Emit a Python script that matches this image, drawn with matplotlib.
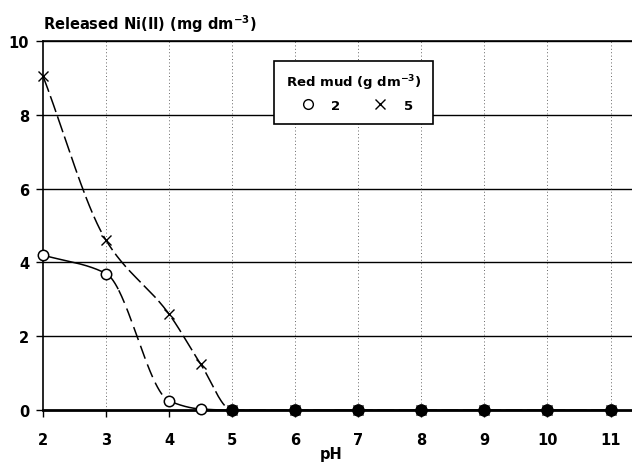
# released_ni.py
#
# Released Ni(II) against pH for two red mud doses

import numpy as np
import matplotlib
matplotlib.use('Agg')
import matplotlib.pyplot as plt
from matplotlib.lines import Line2D

plt.rcParams['font.family'] = ['DejaVu Sans']
plt.rcParams['font.weight'] = 'bold'

# Data
ph = [2, 3, 4, 4.5, 5, 6, 7, 8, 9, 10, 11]
ni_2 = [4.2, 3.7, 0.25, 0.03, 0, 0, 0, 0, 0, 0, 0]
ni_5 = [9.05, 4.6, 2.6, 1.25, 0, 0, 0, 0, 0, 0, 0]
dose_labels = ['2', '5']

X_TICKS = list(range(2, 12))
Y_TICKS = [0, 2, 4, 6, 8, 10]
FS = 10.5


def pchip(x, y, xs):
    """
    Monotone cubic through the points, used only to draw the smooth line
    """
    x = np.asarray(x, float)
    y = np.asarray(y, float)
    h = np.diff(x)
    d = np.diff(y) / h
    m = np.zeros_like(y)
    for k in range(1, len(x) - 1):
        if d[k - 1] * d[k] > 0:
            w1 = 2 * h[k] + h[k - 1]
            w2 = h[k] + 2 * h[k - 1]
            m[k] = (w1 + w2) / (w1 / d[k - 1] + w2 / d[k])
    m[0] = d[0]
    m[-1] = d[-1]
    idx = np.clip(np.searchsorted(x, xs) - 1, 0, len(x) - 2)
    t = (xs - x[idx]) / h[idx]
    h00 = 2 * t**3 - 3 * t**2 + 1
    h10 = t**3 - 2 * t**2 + t
    h01 = -2 * t**3 + 3 * t**2
    h11 = t**3 - t**2
    return (h00 * y[idx] + h10 * h[idx] * m[idx]
            + h01 * y[idx + 1] + h11 * h[idx] * m[idx + 1])


fig = plt.figure(figsize=(6.32, 4.64), dpi=100)
ax = fig.add_axes([0.068, 0.114, 0.932, 0.7955])

# Grid
for y in Y_TICKS[1:]:
    ax.axhline(y, color='k', lw=1.0, zorder=1)
for x in X_TICKS[1:]:
    ax.axvline(x, color='0.4', lw=0.7, ls=(0, (1, 2.5)), zorder=1)

# Smooth curves
xs = np.linspace(2, 11, 600)
c2 = pchip(ph, ni_2, xs)
c5 = pchip(ph, ni_5, xs)
mid = (xs >= 3.2) & (xs <= 4.0)
ax.plot(np.where(xs <= 3.2, xs, np.nan), c2, color='k', lw=1.1, zorder=2)
ax.plot(np.where(xs >= 4.0, xs, np.nan), c2, color='k', lw=1.1, zorder=2)
ax.plot(np.where(mid, xs, np.nan), c2, color='k', lw=1.1, ls=(0, (9, 4)), zorder=2)
ax.plot(xs, c5, color='k', lw=1.1, ls=(0, (11, 3)), zorder=2)

# Markers
ax.plot(ph, ni_2, ls='none', marker='o', ms=7.5, mfc='white', mec='k', mew=1.1,
        zorder=3, clip_on=False)
ax.plot(ph, ni_5, ls='none', marker='x', ms=6.5, mec='k', mew=1.0, zorder=4,
        clip_on=False)
both = [(p, a) for p, a, b in zip(ph, ni_2, ni_5) if a == b]
ax.plot([p for p, _ in both], [a for _, a in both], ls='none', marker='o',
        ms=8, mfc='k', mec='k', zorder=5, clip_on=False)

ax.set_xlim(2, 11.34)
ax.set_ylim(0, 10)
ax.set_xticks(X_TICKS)
ax.set_yticks(Y_TICKS)
ax.tick_params(axis='both', direction='out', length=5, width=1, labelsize=FS)
ax.tick_params(axis='x', pad=11)
ax.tick_params(axis='y', pad=5)
for lab in ax.get_xticklabels() + ax.get_yticklabels():
    lab.set_fontweight('bold')

ax.spines['right'].set_visible(False)
ax.spines['top'].set_linewidth(1.2)
ax.spines['left'].set_linewidth(1.2)
ax.spines['bottom'].set_linewidth(2.0)

ax.set_xlabel('pH', fontsize=FS, fontweight='bold')
ax.xaxis.set_label_coords(0.49, -0.098)
ax.xaxis.label.set_va('top')
fig.text(0.068, 0.948, 'Released Ni(II) (mg dm$^{-3}$)', fontsize=FS,
         fontweight='bold', ha='left', va='center')

# Legend
handles = [
    Line2D([], [], ls='none', marker='o', ms=7, mfc='white', mec='k', mew=1),
    Line2D([], [], ls='none', marker='x', ms=7, mec='k', mew=1),
]
leg = ax.legend(handles, dose_labels, title='Red mud (g dm$^{-3}$)', ncol=2,
                loc='upper left', bbox_to_anchor=(0.392, 0.946), frameon=True,
                fancybox=False, edgecolor='k', framealpha=1, fontsize=9.5,
                title_fontsize=9.5, columnspacing=2.0, handletextpad=0.8,
                borderpad=0.9, borderaxespad=0)
leg.get_frame().set_linewidth(1.2)
leg.get_title().set_fontweight('bold')
for t in leg.get_texts():
    t.set_fontweight('bold')

fig.savefig('out.png', dpi=100)
